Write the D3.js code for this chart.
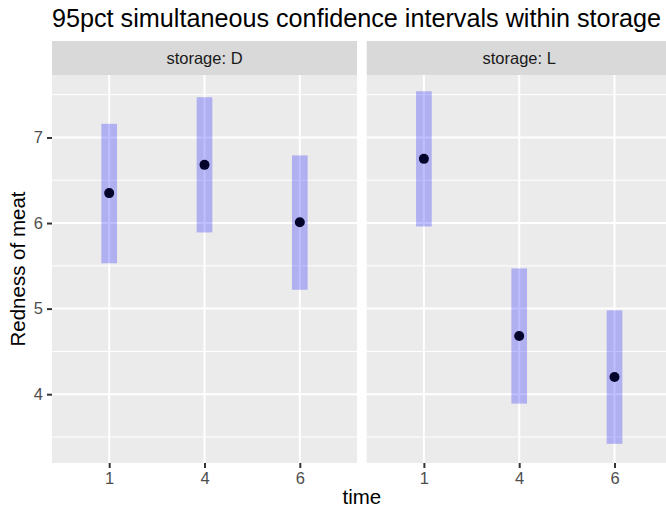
<!DOCTYPE html>
<html>
<head>
<meta charset="utf-8">
<script src="https://cdn.jsdelivr.net/npm/d3@7"></script>
<style>
  body { margin: 0; background: #fff; }
  svg { display: block; font-family: "Liberation Sans", Arial, sans-serif; }
</style>
</head>
<body>
<div id="chart"></div>
<script>
// Data
const storages = ['D', 'L'];
const times = ['1', '4', '6'];
const estD = [6.35, 6.68, 6.01];
const lowerD = [5.53, 5.89, 5.22];
const upperD = [7.16, 7.47, 6.79];
const estL = [6.75, 4.68, 4.20];
const lowerL = [5.96, 3.89, 3.42];
const upperL = [7.54, 5.47, 4.98];
const yTicks = [4, 5, 6, 7];

const panels = [
    { storage: storages[0], est: estD, lower: lowerD, upper: upperD },
    { storage: storages[1], est: estL, lower: lowerL, upper: upperL }
];

const W = 666, H = 509;
const margin = { top: 41, left: 52, bottom: 46 };
const stripH = 34;
const panelW = 305;
const gap = 9.7;
const plotTop = margin.top + stripH;
const plotBottom = H - margin.bottom;
const tickFont = '16.5px';

const svg = d3.select('#chart')
    .append('svg')
    .attr('width', W)
    .attr('height', H);

// Title
svg.append('text')
    .attr('x', margin.left)
    .attr('y', 27)
    .style('font-size', '25.2px')
    .style('fill', '#000')
    .text('95pct simultaneous confidence intervals within storage');

// Y scale
const y = d3.scaleLinear()
    .domain([3.196, 7.73])
    .range([plotBottom, plotTop]);

const minorTicks = [3.5, 4.5, 5.5, 6.5, 7.5];

panels.forEach((p, k) => {
    const x0 = margin.left + k * (panelW + gap);
    const g = svg.append('g').attr('transform', `translate(${x0},0)`);

    // discrete axis with 0.6 expansion on each side
    const x = d3.scalePoint()
        .domain(times)
        .range([panelW * 0.6 / 3.2, panelW * 2.6 / 3.2]);

    // Strip
    g.append('rect')
        .attr('x', 0).attr('y', margin.top)
        .attr('width', panelW).attr('height', stripH)
        .attr('fill', '#D9D9D9');
    g.append('text')
        .attr('x', panelW / 2)
        .attr('y', margin.top + stripH / 2)
        .attr('dy', '0.35em')
        .attr('text-anchor', 'middle')
        .style('font-size', tickFont)
        .style('fill', '#1A1A1A')
        .text(`storage: ${p.storage}`);

    // Panel background
    g.append('rect')
        .attr('x', 0).attr('y', plotTop)
        .attr('width', panelW).attr('height', plotBottom - plotTop)
        .attr('fill', '#EBEBEB');

    // Grid
    g.selectAll('.minor')
        .data(minorTicks)
        .enter().append('line')
        .attr('x1', 0).attr('x2', panelW)
        .attr('y1', d => y(d)).attr('y2', d => y(d))
        .attr('stroke', '#fff').attr('stroke-width', 1);
    g.selectAll('.major')
        .data(yTicks)
        .enter().append('line')
        .attr('x1', 0).attr('x2', panelW)
        .attr('y1', d => y(d)).attr('y2', d => y(d))
        .attr('stroke', '#fff').attr('stroke-width', 2);
    g.selectAll('.vgrid')
        .data(times)
        .enter().append('line')
        .attr('x1', d => x(d)).attr('x2', d => x(d))
        .attr('y1', plotTop).attr('y2', plotBottom)
        .attr('stroke', '#fff').attr('stroke-width', 2);

    // Interval bars
    const barW = 15.7;
    g.selectAll('.ci')
        .data(times)
        .enter().append('rect')
        .attr('x', d => x(d) - barW / 2)
        .attr('y', (d, i) => y(p.upper[i]))
        .attr('width', barW)
        .attr('height', (d, i) => y(p.lower[i]) - y(p.upper[i]))
        .attr('fill', 'blue')
        .attr('fill-opacity', 0.25);

    // Points
    g.selectAll('.pt')
        .data(times)
        .enter().append('circle')
        .attr('cx', d => x(d))
        .attr('cy', (d, i) => y(p.est[i]))
        .attr('r', 5)
        .attr('fill', '#03032c');

    // X axis
    const xa = g.append('g')
        .attr('transform', `translate(0,${plotBottom})`)
        .call(d3.axisBottom(x).tickSize(5).tickPadding(4));
    xa.select('.domain').remove();
    xa.selectAll('line').attr('stroke', '#333').attr('stroke-width', 2);
    xa.selectAll('text')
        .style('font-size', tickFont)
        .style('fill', '#4D4D4D')
        .style('font-family', '"Liberation Sans", Arial, sans-serif');
});

// Y axis
const ya = svg.append('g')
    .attr('transform', `translate(${margin.left},0)`)
    .call(d3.axisLeft(y).tickValues(yTicks).tickFormat(d3.format('d')).tickSize(5).tickPadding(4));
ya.select('.domain').remove();
ya.selectAll('line').attr('stroke', '#333').attr('stroke-width', 2);
ya.selectAll('text')
    .style('font-size', tickFont)
    .style('fill', '#4D4D4D')
    .style('font-family', '"Liberation Sans", Arial, sans-serif');

// Axis titles
svg.append('text')
    .attr('x', margin.left + (panelW * 2 + gap) / 2)
    .attr('y', 504)
    .attr('text-anchor', 'middle')
    .style('font-size', '20.5px')
    .style('fill', '#000')
    .text('time');

svg.append('text')
    .attr('transform', `translate(25,${(plotTop + plotBottom) / 2}) rotate(-90)`)
    .attr('text-anchor', 'middle')
    .style('font-size', '20.5px')
    .style('fill', '#000')
    .text('Redness of meat');
</script>
</body>
</html>
